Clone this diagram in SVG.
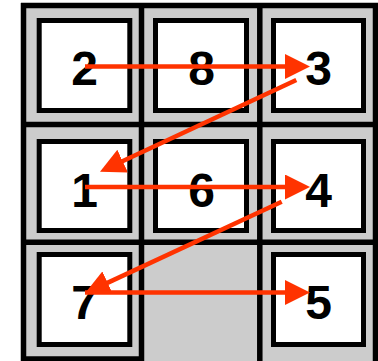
<svg xmlns="http://www.w3.org/2000/svg" width="378" height="361" viewBox="0 0 378 361">
<style>
.frame{fill:#cccccc}
.grid{stroke:#000;stroke-width:5.5;fill:none}
.tile rect{fill:#fff;stroke:#000;stroke-width:5}
.tile text{font-family:"Liberation Sans",Arial,sans-serif;font-weight:bold;font-size:48px;text-anchor:middle;fill:#000}
.arrow{stroke:#ff3300;stroke-width:4.5;fill:none;marker-end:url(#ah)}
</style>
<defs>
<marker id="ah" markerUnits="userSpaceOnUse" markerWidth="25" markerHeight="25" refX="5" refY="12.5" orient="auto" viewBox="0 0 25 25">
<path d="M0,0 L25,12.5 L0,25 z" fill="#ff3300"/>
</marker>
</defs>
<g id="board">
<rect class="frame" x="21" y="3" width="357" height="358"/>
<path class="grid" d="M23.5,3V361 M141.5,3V361 M259.8,3V361 M375.5,3V361 M21,5.5H378 M21,124.5H378 M21,242.3H378 M21,359H144"/>
</g>
<g id="tile-2" class="tile"><rect x="39.2" y="20.5" width="90.6" height="90"/><text x="84.5" y="85">2</text></g>
<g id="tile-8" class="tile"><rect x="155.5" y="20.5" width="91" height="90"/><text x="201.5" y="85">8</text></g>
<g id="tile-3" class="tile"><rect x="273.5" y="20.5" width="90" height="90"/><text x="318.5" y="85">3</text></g>
<g id="tile-1" class="tile"><rect x="39.2" y="141.5" width="90.6" height="89"/><text x="84.5" y="206.5">1</text></g>
<g id="tile-6" class="tile"><rect x="155.5" y="141.5" width="91" height="89"/><text x="201.5" y="206.5">6</text></g>
<g id="tile-4" class="tile"><rect x="273.5" y="141.5" width="90" height="89"/><text x="318.5" y="206.5">4</text></g>
<g id="tile-7" class="tile"><rect x="39.2" y="254.5" width="90.6" height="90"/><text x="84.5" y="319">7</text></g>
<g id="tile-5" class="tile"><rect x="273.5" y="254.5" width="90" height="90"/><text x="318.5" y="319">5</text></g>
<g id="connectors">
<path class="arrow" d="M85,66.5 L290,66.5"/>
<path class="arrow" d="M296.3,80 L118.1,163.2"/>
<path class="arrow" d="M85,187 L290,187"/>
<path class="arrow" d="M281.7,201.7 L103.1,284.9"/>
<path class="arrow" d="M85,292.5 L290,292.5"/>
</g>
</svg>
